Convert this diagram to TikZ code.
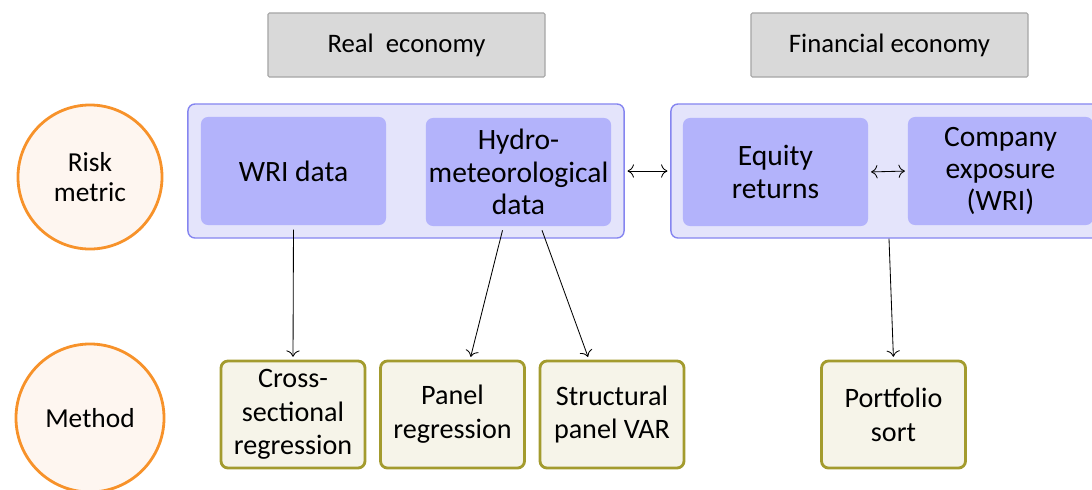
\documentclass[tikz,border=0pt]{standalone}
\usepackage{fontspec}
\setmainfont{Carlito}
\usetikzlibrary{positioning,arrows.meta,calc}
\definecolor{cHead}{HTML}{D9D9D9}
\definecolor{cHeadLine}{HTML}{A6A6A6}
\definecolor{cGroup}{HTML}{E4E4FB}
\definecolor{cGroupLine}{HTML}{8585F0}
\definecolor{cData}{HTML}{B3B3FB}
\definecolor{cRow}{HTML}{F7922A}
\definecolor{cRowFill}{HTML}{FEF6F0}
\definecolor{cMeth}{HTML}{A39B2E}
\definecolor{cMethFill}{HTML}{F6F4E9}
\tikzset{
  blk/.style={rounded corners=5pt, align=center, inner sep=2pt,
              font=\fontsize{21}{23}\selectfont},
  headb/.style={blk, rounded corners=1pt, draw=cHeadLine, fill=cHead, line width=0.8pt,
                minimum width=6.925cm, minimum height=1.6cm, font=\fontsize{19}{21}\selectfont},
  groupb/.style={blk, draw=cGroupLine, fill=cGroup, line width=1pt,
                 minimum width=10.9cm, minimum height=3.35cm},
  datab/.style={blk, fill=cData, minimum width=4.625cm, minimum height=2.7cm},
  methb/.style={blk, draw=cMeth, fill=cMethFill, line width=2pt,
                minimum width=3.6cm, minimum height=2.675cm,
                font=\fontsize{20}{24}\selectfont},
  rowc/.style={circle, draw=cRow, fill=cRowFill, line width=2pt, align=center,
               inner sep=0pt, font=\fontsize{19.5}{21.5}\selectfont},
  ar/.style={-{To[length=4.5pt]}, line width=0.6pt},
  dar/.style={{To[length=4.5pt]}-{To[length=4.5pt]}, line width=0.6pt, shorten <=2pt, shorten >=2pt},
}

\begin{document}
\begin{tikzpicture}[x=0.025cm, y=-0.025cm]
  \useasboundingbox (0,0) rectangle (1092,489);

  \node[headb] (realhead) at (406.5,45) {Real\ \ economy};
  \node[headb] (finhead) at (889.5,45) {Financial economy};

  \node[rowc, minimum size=3.6cm] (risk) at (90,177) {Risk\\metric};
  \node[rowc, minimum size=3.7cm] (method) at (90,418) {Method};

  \node[groupb] (real) at (406,171) {};
  \node[groupb] (fin) at (889,171) {};

  \node[datab] (wri) at (293.5,171) {WRI data};
  \node[datab] (hydro) at (518.5,172) {Hydro-\\meteorological\\data};
  \node[datab] (equity) at (775.5,172) {Equity\\returns};
  \node[datab] (company) at (1000.5,171) {Company\\exposure\\(WRI)};

  \node[methb] (cross) at (293,414.5) {Cross-\\sectional\\regression};
  \node[methb] (panel) at (452.5,414.5) {Panel\\regression};
  \node[methb] (svar) at (612,414.5) {Structural\\panel VAR};
  \node[methb] (port) at (893.5,414.5) {Portfolio\\sort};

  \draw[dar] (real.east) -- (fin.west);
  \draw[dar] (equity.east) -- (company.west);

  \draw[ar, shorten <=3pt, shorten >=2pt] (wri.south) -- (cross.north);
  \draw[ar, shorten >=2pt] ($(hydro.south)+(-16,4)$) -- ($(panel.north)+(17.5,0)$);
  \draw[ar, shorten >=2pt] ($(hydro.south)+(23.5,4)$) -- ($(svar.north)+(-23,0)$);
  \draw[ar, shorten >=2pt] (fin.south) -- (port.north);
\end{tikzpicture}
\end{document}
